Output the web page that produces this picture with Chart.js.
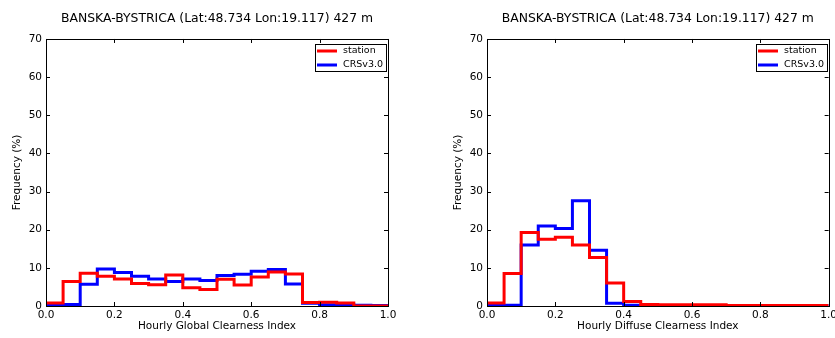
<!DOCTYPE html>
<html lang="en">
<head>
<meta charset="UTF-8">
<title>Clearness index histograms</title>
<style>
    html, body { margin: 0; padding: 0; background: #fff; overflow: hidden; }
    #wrap { position: relative; width: 835px; height: 338px; overflow: hidden; }
    .panel { position: absolute; top: 0; height: 338px; }
    #left { left: 0; width: 400px; }
    #right { left: 441px; width: 399px; }
</style>
<script src="https://cdn.jsdelivr.net/npm/chart.js"></script>
</head>
<body>
<div id="wrap">
    <div class="panel" id="left"><canvas id="globalChart"></canvas></div>
    <div class="panel" id="right"><canvas id="diffuseChart"></canvas></div>
</div>
<script>
    const titleText = 'BANSKA-BYSTRICA (Lat:48.734 Lon:19.117) 427 m';
    const seriesNames = ['station', 'CRSv3.0'];
    const seriesColors = ['#ff0000', '#0000ff'];

    // bin edges (bin width 0.05), last edge closes the step
    const binEdges = [0.00, 0.05, 0.10, 0.15, 0.20, 0.25, 0.30, 0.35, 0.40, 0.45,
                      0.50, 0.55, 0.60, 0.65, 0.70, 0.75, 0.80, 0.85, 0.90, 0.95, 1.00];

    // frequency (%) per bin - global clearness index
    const globalStation = [0.8, 6.4, 8.6, 7.8, 7.1, 5.9, 5.6, 8.1, 4.8, 4.3,
                           7.0, 5.5, 7.6, 8.9, 8.4, 0.9, 1.0, 0.8, 0.0, 0.0];
    const globalCrs     = [0.2, 0.4, 5.7, 9.7, 8.8, 7.8, 7.1, 6.4, 7.1, 6.7,
                           8.0, 8.3, 9.1, 9.6, 5.8, 0.7, 0.3, 0.3, 0.2, 0.1];

    // frequency (%) per bin - diffuse clearness index
    const diffuseStation = [0.8, 8.5, 19.3, 17.5, 18.0, 16.0, 12.7, 6.0, 1.2, 0.4,
                            0.3, 0.3, 0.3, 0.3, 0.1, 0.1, 0.1, 0.1, 0.1, 0.1];
    const diffuseCrs     = [0.2, 0.2, 16.0, 21.0, 20.3, 27.6, 14.6, 0.7, 0.2, 0.1,
                            0.1, 0.1, 0.1, 0.1, 0.1, 0.1, 0.1, 0.1, 0.1, 0.1];

    const xTicks = [0.0, 0.2, 0.4, 0.6, 0.8, 1.0];
    const yTicks = [0, 10, 20, 30, 40, 50, 60, 70];

    function stepPoints(values) {
        const pts = binEdges.slice(0, values.length).map((e, i) => ({ x: e, y: values[i] }));
        pts.push({ x: binEdges[values.length], y: values[values.length - 1] });
        return pts;
    }

    // frame + inward ticks on all four sides, like matplotlib classic style
    const frameTicks = {
        id: 'frameTicks',
        afterDatasetsDraw(chart) {
            const { ctx, chartArea: a, scales } = chart;
            ctx.save();
            ctx.strokeStyle = '#000';
            ctx.lineWidth = 1;
            ctx.beginPath();
            xTicks.forEach(v => {
                const px = Math.round(scales.x.getPixelForValue(v)) + 0.5;
                ctx.moveTo(px, a.bottom); ctx.lineTo(px, a.bottom - 4);
                ctx.moveTo(px, a.top); ctx.lineTo(px, a.top + 4);
            });
            yTicks.forEach(v => {
                const py = Math.round(scales.y.getPixelForValue(v)) + 0.5;
                ctx.moveTo(a.left, py); ctx.lineTo(a.left + 4, py);
                ctx.moveTo(a.right, py); ctx.lineTo(a.right - 4, py);
            });
            ctx.stroke();
            ctx.strokeRect(Math.round(a.left) + 0.5, Math.round(a.top) + 0.5,
                           Math.round(a.right - a.left), Math.round(a.bottom - a.top));
            ctx.restore();
        }
    };

    // boxed legend in the upper right corner of the plot
    const cornerLegend = {
        id: 'cornerLegend',
        afterDraw(chart) {
            const { ctx, chartArea: a } = chart;
            const w = 71, h = 27;
            const x0 = Math.round(a.right) - w - 2, y0 = Math.round(a.top) + 5;
            ctx.save();
            ctx.fillStyle = '#fff';
            ctx.fillRect(x0, y0, w, h);
            ctx.strokeStyle = '#000';
            ctx.lineWidth = 1;
            ctx.strokeRect(x0 + 0.5, y0 + 0.5, w, h);
            ctx.font = '9.5px "DejaVu Sans"';
            ctx.textBaseline = 'middle';
            chart.data.datasets.forEach((ds, i) => {
                const y = y0 + 7 + i * 14;
                ctx.strokeStyle = ds.borderColor;
                ctx.lineWidth = 3;
                ctx.beginPath();
                ctx.moveTo(x0 + 2, y); ctx.lineTo(x0 + 22, y);
                ctx.stroke();
                ctx.fillStyle = '#000';
                ctx.fillText(ds.label, x0 + 28, y);
            });
            ctx.restore();
        }
    };

    function drawHistogram(canvasId, xLabel, stationValues, crsValues, rightPad) {
        const ctx = document.getElementById(canvasId).getContext('2d');
        new Chart(ctx, {
            type: 'line',
            data: {
                datasets: [stationValues, crsValues].map((vals, i) => ({
                    label: seriesNames[i],
                    data: stepPoints(vals),
                    borderColor: seriesColors[i],
                    borderWidth: 3,
                    stepped: 'before',
                    pointRadius: 0,
                    fill: false
                }))
            },
            options: {
                responsive: true,
                maintainAspectRatio: false,
                animation: false,
                layout: { padding: { left: 0, right: rightPad, top: 0, bottom: 0 } },
                plugins: {
                    legend: { display: false },
                    tooltip: { enabled: false },
                    title: {
                        display: true,
                        text: titleText,
                        fullSize: false,
                        color: '#000',
                        font: { family: 'DejaVu Sans', size: 12.4, weight: 'normal' },
                        padding: { top: 11, bottom: 13.1 }
                    }
                },
                scales: {
                    x: {
                        type: 'linear',
                        min: 0, max: 1,
                        afterBuildTicks: s => { s.ticks = xTicks.map(v => ({ value: v })); },
                        afterFit: s => { s.height = 32; },
                        grid: { display: false, drawTicks: false },
                        border: { display: false },
                        ticks: {
                            color: '#000',
                            padding: 3,
                            maxRotation: 0,
                            font: { family: 'DejaVu Sans', size: 10.5 },
                            callback: v => v.toFixed(1)
                        },
                        title: {
                            display: true,
                            text: xLabel,
                            color: '#000',
                            font: { family: 'DejaVu Sans', size: 10.5 },
                            padding: { top: 0, bottom: 5 }
                        }
                    },
                    y: {
                        min: 0, max: 70,
                        afterBuildTicks: s => { s.ticks = yTicks.map(v => ({ value: v })); },
                        afterFit: s => { s.width = 46; },
                        grid: { display: false, drawTicks: false },
                        border: { display: false },
                        ticks: {
                            color: '#000',
                            padding: 4,
                            font: { family: 'DejaVu Sans', size: 10.5 }
                        },
                        title: {
                            display: true,
                            text: 'Frequency (%)',
                            color: '#000',
                            font: { family: 'DejaVu Sans', size: 10.5 },
                            padding: { top: 11, bottom: 0 }
                        }
                    }
                }
            },
            plugins: [frameTicks, cornerLegend]
        });
    }

    drawHistogram('globalChart', 'Hourly Global Clearness Index', globalStation, globalCrs, 12);
    drawHistogram('diffuseChart', 'Hourly Diffuse Clearness Index', diffuseStation, diffuseCrs, 1);
</script>
</body>
</html>
